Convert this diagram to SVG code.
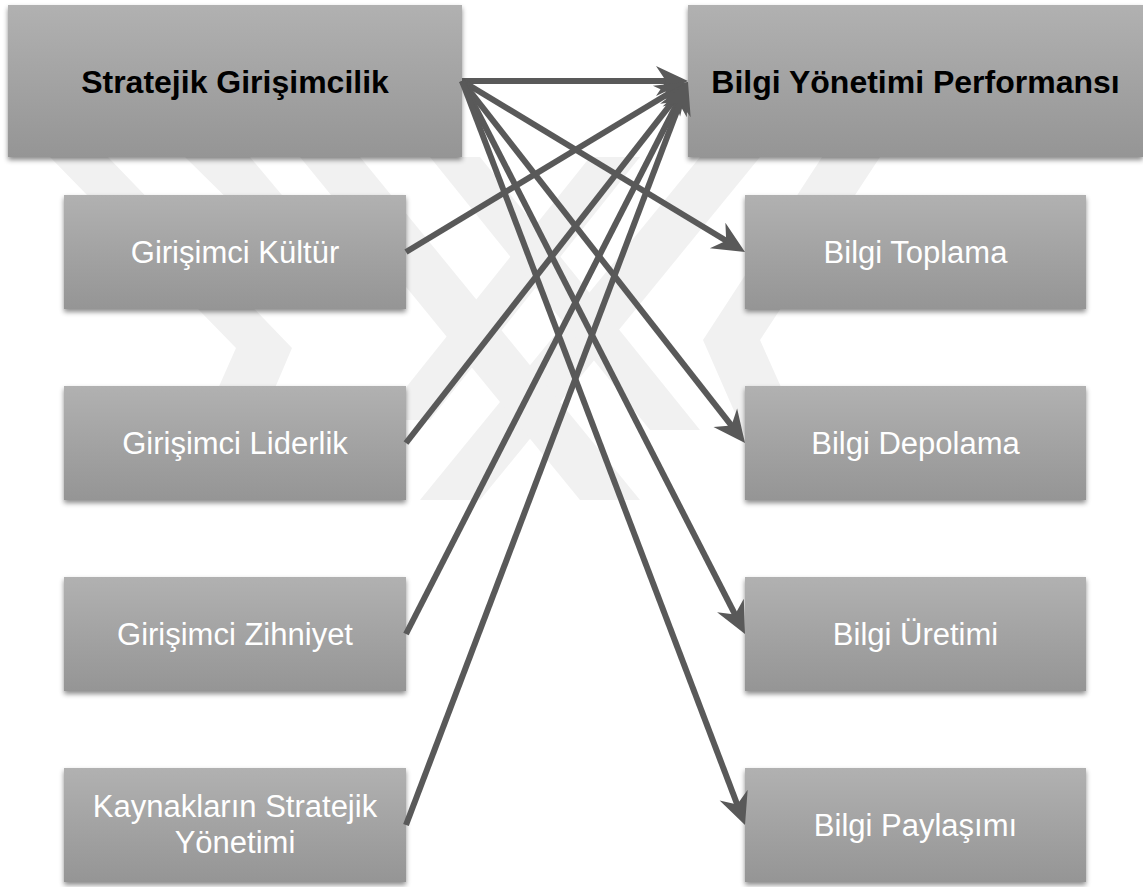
<svg xmlns="http://www.w3.org/2000/svg" width="1143" height="887" viewBox="0 0 1143 887">
  <defs>
    <linearGradient id="boxFill" x1="0" y1="0" x2="0" y2="1">
      <stop offset="0" stop-color="#b1b1b1"/>
      <stop offset="1" stop-color="#959595"/>
    </linearGradient>
    <filter id="shadow" x="-10%" y="-10%" width="120%" height="130%">
      <feDropShadow dx="0" dy="3" stdDeviation="2.5" flood-color="#000" flood-opacity="0.45"/>
    </filter>
    <marker id="head" markerUnits="userSpaceOnUse" viewBox="0 -20 40 40" markerWidth="40" markerHeight="40" refX="14" refY="0" orient="auto" overflow="visible">
      <path d="M34,0 L2,-15 L12,0 L2,15 Z" fill="#595959"/>
    </marker>
    <style>
      .box { fill: url(#boxFill); filter: url(#shadow); }
      .title { font-family: "Liberation Sans", Arial, sans-serif; font-weight: bold; font-size: 32px; fill: #000; text-anchor: middle; }
      .label { font-family: "Liberation Sans", Arial, sans-serif; font-size: 31px; fill: #fff; text-anchor: middle; }
      .edge { fill: none; stroke: #595959; stroke-width: 6; marker-end: url(#head); }
      .mark { fill: #f1f1f1; }
    </style>
  </defs>

  <rect width="1143" height="887" fill="#fff"/>

  <!-- faint background emblem -->
  <g id="emblem">
    <polygon class="mark" points="50,157 108,157 292,348 240,470 182,470 236,348"/>
    <polygon class="mark" points="185,157 250,157 370,300 330,300"/>
    <polygon class="mark" points="330,420 380,420 300,500 250,500"/>
    <polygon class="mark" points="880,157 822,157 703,340 760,470 818,470 760,340"/>
    <polygon class="mark" points="760,157 700,157 420,500 480,500"/>
    <polygon class="mark" points="640,157 590,157 380,420 430,420"/>
    <polygon class="mark" points="300,157 360,157 640,500 580,500"/>
    <polygon class="mark" points="430,157 480,157 700,430 650,430"/>
  </g>

  <g id="n-stratejik">
    <rect class="box" x="8" y="5" width="454" height="152"/>
    <text class="title" x="235" y="93">Stratejik Girişimcilik</text>
  </g>
  <g id="n-performans">
    <rect class="box" x="688" y="5" width="455" height="152"/>
    <text class="title" x="915.5" y="93">Bilgi Yönetimi Performansı</text>
  </g>

  <g id="n-kultur">
    <rect class="box" x="64" y="195" width="342" height="114"/>
    <text class="label" x="235" y="263">Girişimci Kültür</text>
  </g>
  <g id="n-liderlik">
    <rect class="box" x="64" y="386" width="342" height="114"/>
    <text class="label" x="235" y="454">Girişimci Liderlik</text>
  </g>
  <g id="n-zihniyet">
    <rect class="box" x="64" y="577" width="342" height="114"/>
    <text class="label" x="235" y="645">Girişimci Zihniyet</text>
  </g>
  <g id="n-kaynak">
    <rect class="box" x="64" y="768" width="342" height="114"/>
    <text class="label" x="235" y="817">Kaynakların Stratejik</text>
    <text class="label" x="235" y="853">Yönetimi</text>
  </g>

  <g id="n-toplama">
    <rect class="box" x="745" y="195" width="341" height="114"/>
    <text class="label" x="915.5" y="263">Bilgi Toplama</text>
  </g>
  <g id="n-depolama">
    <rect class="box" x="745" y="386" width="341" height="114"/>
    <text class="label" x="915.5" y="454">Bilgi Depolama</text>
  </g>
  <g id="n-uretim">
    <rect class="box" x="745" y="577" width="341" height="114"/>
    <text class="label" x="915.5" y="645">Bilgi Üretimi</text>
  </g>
  <g id="n-paylasim">
    <rect class="box" x="745" y="768" width="341" height="114"/>
    <text class="label" x="915.5" y="836">Bilgi Paylaşımı</text>
  </g>

  <g id="connectors">
    <path class="edge" d="M462,81 L668,81"/>
    <path class="edge" d="M462,81 L727.9,241.7"/>
    <path class="edge" d="M462,81 L732.7,427.2"/>
    <path class="edge" d="M462,81 L735.9,616.2"/>
    <path class="edge" d="M462,81 L737.9,806.3"/>
    <path class="edge" d="M406,252 L670.9,92.3"/>
    <path class="edge" d="M406,443 L675.7,97.8"/>
    <path class="edge" d="M406,634 L678.9,99.8"/>
    <path class="edge" d="M406,825 L680.9,100.7"/>
  </g>
</svg>
